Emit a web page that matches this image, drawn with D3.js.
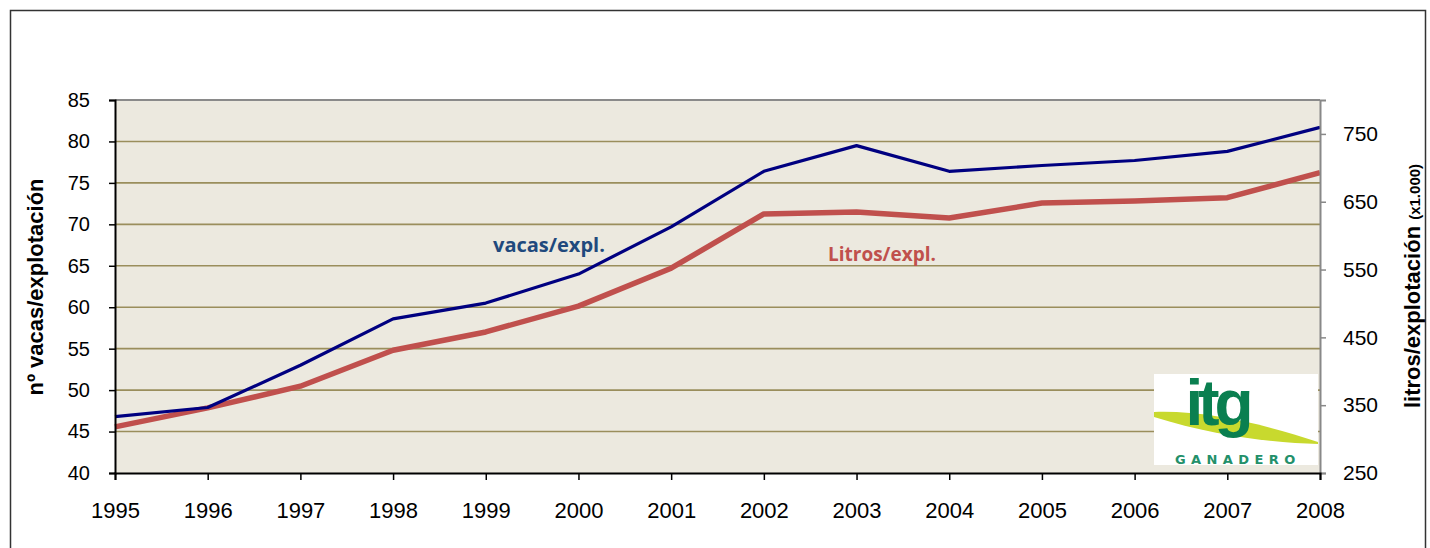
<!DOCTYPE html>
<html>
<head>
<meta charset="utf-8">
<script src="https://cdn.jsdelivr.net/npm/d3@7"></script>
<style>
  body { margin: 0; background: #fff; }
  svg { display: block; }
</style>
</head>
<body>
<div id="chart"></div>
<script>
// data
const years = [1995, 1996, 1997, 1998, 1999, 2000, 2001, 2002, 2003, 2004, 2005, 2006, 2007, 2008];
const vacas = [46.8, 47.9, 53.0, 58.6, 60.5, 64.0, 69.7, 76.4, 79.5, 76.4, 77.1, 77.7, 78.8, 81.7];
const litros = [318, 346, 378, 431, 458, 496, 552, 632, 635, 626, 648, 651, 656, 693];
const leftTicks = [40, 45, 50, 55, 60, 65, 70, 75, 80, 85];
const rightTicks = [250, 350, 450, 550, 650, 750];

const W = 1430, H = 548;
const plot = { left: 115, right: 1320, top: 100, bottom: 473 };

const svg = d3.select("#chart").append("svg")
    .attr("width", W)
    .attr("height", H);

// outer frame
svg.append("path")
    .attr("d", `M10.5,${H + 5} V10.5 H1425.5 V${H + 5}`)
    .attr("fill", "none")
    .attr("stroke", "#333")
    .attr("stroke-width", 1.5);

const x = d3.scaleLinear().domain([1995, 2008]).range([plot.left, plot.right]);
const yL = d3.scaleLinear().domain([40, 85]).range([plot.bottom, plot.top]);
const yR = d3.scaleLinear().domain([250, 800]).range([plot.bottom, plot.top]);

// plot background
svg.append("rect")
    .attr("x", plot.left)
    .attr("y", plot.top)
    .attr("width", plot.right - plot.left)
    .attr("height", plot.bottom - plot.top)
    .attr("fill", "#ECE9DF");

// gridlines
svg.append("g")
    .selectAll("line")
    .data(leftTicks.filter(d => d > 40 && d < 85))
    .enter()
    .append("line")
    .attr("x1", plot.left)
    .attr("x2", plot.right)
    .attr("y1", d => yL(d))
    .attr("y2", d => yL(d))
    .attr("stroke", "#9A8E5C")
    .attr("stroke-width", 1.6);

// top border of plot
svg.append("line")
    .attr("x1", plot.left).attr("x2", plot.right)
    .attr("y1", plot.top).attr("y2", plot.top)
    .attr("stroke", "#8a8a8a").attr("stroke-width", 2);

// logo (itg ganadero)
const logo = svg.append("g").attr("transform", "translate(1154,374)");
logo.append("rect").attr("width", 164).attr("height", 91).attr("fill", "#fff");
logo.append("path")
    .attr("d", "M0,38 C50,36 110,50 164,68 L164,70 C120,69 60,62 0,43 Z")
    .attr("fill", "#C8D92E");
logo.append("text")
    .attr("x", 63)
    .attr("y", 51)
    .attr("text-anchor", "middle")
    .attr("font-family", "Liberation Sans, Arial, sans-serif")
    .attr("font-weight", "bold")
    .attr("font-size", 64)
    .attr("letter-spacing", -5)
    .attr("fill", "#0A7F50")
    .text("itg");
logo.append("text")
    .attr("x", 21)
    .attr("y", 90)
    .attr("font-family", "DejaVu Sans, sans-serif")
    .attr("font-weight", "bold")
    .attr("font-size", 13)
    .attr("letter-spacing", 5.4)
    .attr("fill", "#23906A")
    .text("GANADERO");

// lines
const lineL = d3.line().x((d, i) => x(years[i])).y(d => yL(d));
const lineR = d3.line().x((d, i) => x(years[i])).y(d => yR(d));

svg.append("path")
    .datum(litros)
    .attr("d", lineR)
    .attr("fill", "none")
    .attr("stroke", "#C0504D")
    .attr("stroke-width", 5.5)
    .attr("stroke-linejoin", "round");

svg.append("path")
    .datum(vacas)
    .attr("d", lineL)
    .attr("fill", "none")
    .attr("stroke", "#000080")
    .attr("stroke-width", 3.2)
    .attr("stroke-linejoin", "round");

// axes
const tickFont = "Liberation Sans, Arial, sans-serif";

const axL = svg.append("g")
    .attr("transform", `translate(${plot.left},0)`)
    .call(d3.axisLeft(yL).tickValues(leftTicks).tickSize(6).tickPadding(19));
axL.select(".domain").attr("stroke", "#000").attr("stroke-width", 2);
axL.selectAll(".tick line").attr("stroke", "#000").attr("stroke-width", 1.5);
axL.selectAll("text").attr("font-family", tickFont).attr("font-size", 20).attr("fill", "#000");

const axR = svg.append("g")
    .attr("transform", `translate(${plot.right},0)`)
    .call(d3.axisRight(yR).tickValues(rightTicks).tickSize(6).tickPadding(17));
axR.select(".domain").attr("stroke", "#888").attr("stroke-width", 2);
axR.selectAll(".tick line").attr("stroke", "#888").attr("stroke-width", 1.5);
axR.selectAll("text").attr("font-family", tickFont).attr("font-size", 21).attr("fill", "#000");

const axB = svg.append("g")
    .attr("transform", `translate(0,${plot.bottom})`)
    .call(d3.axisBottom(x).tickValues(years).tickFormat(d3.format("d")).tickSize(7).tickPadding(22));
axB.select(".domain").attr("stroke", "#000").attr("stroke-width", 2);
axB.selectAll(".tick line").attr("stroke", "#000").attr("stroke-width", 1.5);
axB.selectAll("text").attr("font-family", tickFont).attr("font-size", 22).attr("fill", "#000");

// axis titles
svg.append("text")
    .attr("transform", "translate(43,287) rotate(-90)")
    .attr("text-anchor", "middle")
    .attr("font-family", tickFont)
    .attr("font-weight", "bold")
    .attr("font-size", 22)
    .text("nº vacas/explotación");

const rt = svg.append("text")
    .attr("transform", "translate(1420,286) rotate(-90)")
    .attr("text-anchor", "middle")
    .attr("font-family", tickFont)
    .attr("font-weight", "bold")
    .attr("font-size", 22);
rt.append("tspan").text("litros/explotación ");
rt.append("tspan").attr("font-size", 15).text("(x1.000)");

// series labels
svg.append("text")
    .attr("x", 493)
    .attr("y", 252)
    .attr("font-family", "Open Sans, sans-serif")
    .attr("font-weight", "bold")
    .attr("font-size", 20)
    .attr("fill", "#1F497D")
    .text("vacas/expl.");

svg.append("text")
    .attr("x", 828)
    .attr("y", 261)
    .attr("font-family", "Open Sans, sans-serif")
    .attr("font-weight", "bold")
    .attr("font-size", 19)
    .attr("fill", "#C0504D")
    .text("Litros/expl.");
</script>
</body>
</html>
